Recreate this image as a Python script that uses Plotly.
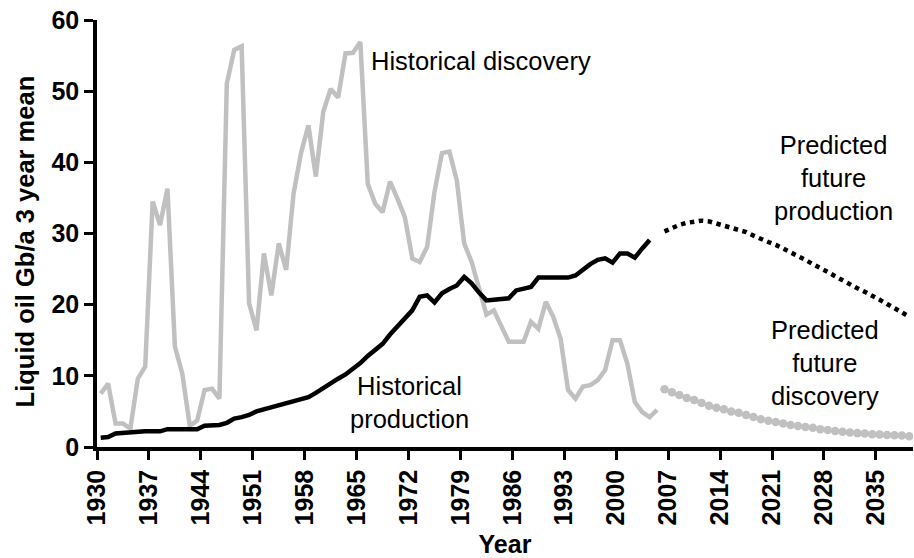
import plotly.graph_objects as go

# ---------------- data ----------------
hist_years = list(range(1930, 2006))
hist_discovery = [
    7.5, 8.9, 3.3, 3.3, 2.6, 9.6, 11.3, 34.5, 31.2, 36.3,
    14.1, 10.3, 3.0, 3.7, 8.0, 8.2, 6.8, 51.1, 55.8, 56.3,
    20.2, 16.4, 27.2, 21.3, 28.6, 24.9, 35.6, 41.3, 45.2, 38.0,
    47.1, 50.3, 49.1, 55.3, 55.4, 56.9, 37.0, 34.2, 33.0, 37.3,
    34.9, 32.3, 26.5, 26.0, 28.1, 35.9, 41.3, 41.5, 37.5, 28.6,
    26.0, 22.0, 18.6, 19.2, 16.9, 14.8, 14.8, 14.8, 17.6, 16.6,
    20.4, 18.3, 15.2, 8.0, 6.8, 8.5, 8.7, 9.4, 10.8, 15.0,
    15.0, 11.7, 6.3, 4.9, 4.2, 5.2,
]

prod_years = list(range(1930, 2005))
hist_production = [
    1.3, 1.4, 1.9, 2.0, 2.0, 2.2, 2.2, 2.2, 2.2, 2.5,
    2.5, 2.5, 2.5, 2.5, 3.0, 3.1, 3.1, 3.4, 4.0, 4.2,
    4.5, 5.0, 5.3, 5.6, 5.9, 6.2, 6.5, 6.7, 7.0, 7.6,
    8.3, 8.9, 9.6, 10.2, 11.0, 11.8, 12.8, 13.6, 14.5, 15.8,
    17.0, 18.2, 19.2, 21.1, 21.3, 20.3, 21.6, 22.2, 22.7, 23.9,
    23.0, 21.7, 20.6, 20.7, 20.8, 20.9, 22.0, 22.2, 22.5, 23.8,
    23.8, 23.8, 23.8, 23.8, 24.1, 24.9, 25.7, 26.3, 26.5, 25.9,
    27.2, 27.2, 26.6, 27.9, 29.1,
]

future_years = list(range(2006, 2040))
future_production = [
    30.3, 30.8, 31.2, 31.5, 31.7, 31.8, 31.7, 31.4, 31.1, 30.9,
    30.6, 30.2, 29.7, 29.2, 28.8, 28.4, 27.9, 27.4, 26.9, 26.3,
    25.7, 25.2, 24.6, 24.0, 23.4, 22.9, 22.3, 21.8, 21.3, 20.7,
    20.1, 19.5, 18.9, 18.3,
]
future_discovery = [
    8.1, 7.7, 7.3, 6.9, 6.6, 6.2, 5.8, 5.5, 5.3, 5.0,
    4.8, 4.5, 4.2, 3.9, 3.7, 3.5, 3.3, 3.1, 2.95, 2.8,
    2.7, 2.5, 2.4, 2.25, 2.15, 2.05, 1.95, 1.9, 1.8, 1.75,
    1.7, 1.65, 1.6, 1.5,
]

tick_labels = [str(y) for y in range(1930, 2036, 7)]
y_ticks = [0, 10, 20, 30, 40, 50, 60]

# ---------------- styling ----------------
GREY = "#C0C0C0"
FONT = "Liberation Sans, Arial, sans-serif"

fig = go.Figure()
fig.add_trace(go.Scatter(x=hist_years, y=hist_discovery, mode="lines",
                         line=dict(color=GREY, width=4.5), name="Historical discovery"))
fig.add_trace(go.Scatter(x=prod_years, y=hist_production, mode="lines",
                         line=dict(color="black", width=4.5), name="Historical production"))
fig.add_trace(go.Scatter(x=future_years, y=future_production, mode="lines",
                         line=dict(color="black", width=4.5, dash="dot"),
                         name="Predicted future production"))
fig.add_trace(go.Scatter(x=future_years, y=future_discovery, mode="lines+markers",
                         line=dict(color=GREY, width=3),
                         marker=dict(color=GREY, size=8.5, line=dict(width=0)),
                         name="Predicted future discovery"))

# category-style axis: ticks sit on the boundary before each labelled year
tickvals = [int(t) - 0.5 for t in tick_labels]

fig.update_layout(
    width=914, height=558,
    margin=dict(l=97, r=1, t=20, b=111),
    paper_bgcolor="white", plot_bgcolor="white",
    showlegend=False,
    font=dict(family=FONT, color="black"),
    xaxis=dict(
        range=[1929.5, 2039.5],
        tickmode="array", tickvals=tickvals, ticktext=tick_labels,
        tickangle=-90,
        showgrid=False, zeroline=False,
        showline=True, linecolor="black", linewidth=3.5,
        ticks="outside", ticklen=9, tickwidth=3, tickcolor="black",
        tickfont=dict(family=FONT, size=25, color="black", weight="bold"),
        title=dict(text="Year", font=dict(family=FONT, size=25, color="black", weight="bold"),
                   standoff=14),
    ),
    yaxis=dict(
        range=[0, 60],
        tickmode="array", tickvals=y_ticks,
        showgrid=False, zeroline=False,
        showline=True, linecolor="black", linewidth=3.5,
        ticks="outside", ticklen=9, tickwidth=3, tickcolor="black",
        tickfont=dict(family=FONT, size=25, color="black", weight="bold"),
    ),
)

# y-axis title (placed as rotated text, slightly below the plot centre as in the original)
fig.add_annotation(x=-0.088, y=0.482, xref="paper", yref="paper",
                   text="Liquid oil Gb/a 3 year mean", textangle=-90,
                   showarrow=False, xanchor="center", yanchor="middle",
                   font=dict(family=FONT, size=25.5, color="black", weight="bold"))

ann_font = dict(family=FONT, size=25.5, color="black")
fig.add_annotation(x=1981.2, y=54.3, xref="x", yref="y", text="Historical discovery",
                   showarrow=False, font=ann_font, xanchor="center", yanchor="middle")
fig.add_annotation(x=1971.6, y=6.3, xref="x", yref="y", text="Historical<br>production",
                   showarrow=False, font=ann_font, xanchor="center", yanchor="middle")
fig.add_annotation(x=2028.8, y=37.8, xref="x", yref="y",
                   text="Predicted<br>future<br>production",
                   showarrow=False, font=ann_font, xanchor="center", yanchor="middle")
fig.add_annotation(x=2027.6, y=11.8, xref="x", yref="y",
                   text="Predicted<br>future<br>discovery",
                   showarrow=False, font=ann_font, xanchor="center", yanchor="middle")

fig.write_html("out.html",
               config={"displayModeBar": False},
               post_script="document.body.style.margin='0';document.body.style.overflow='hidden';")
